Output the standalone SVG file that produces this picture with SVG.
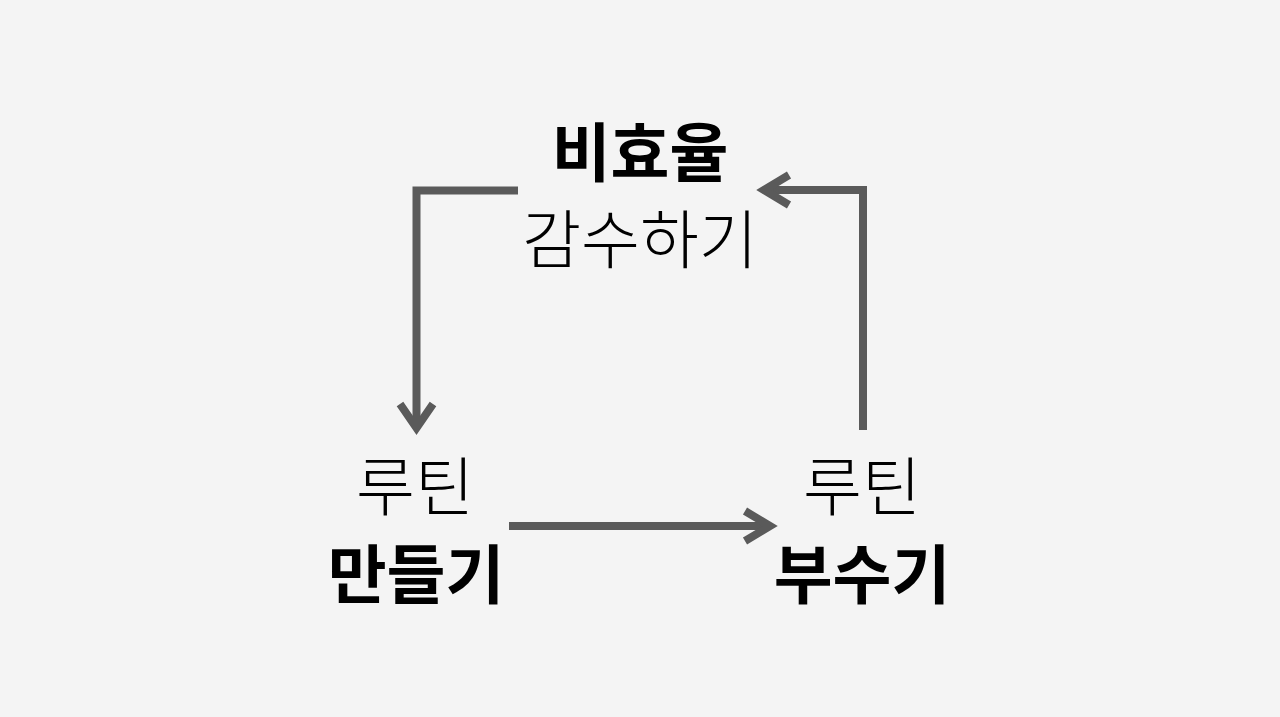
<svg xmlns="http://www.w3.org/2000/svg" width="1280" height="717" viewBox="0 0 1280 717">
<style>
.t{font-family:"Noto Sans CJK KR","Noto Sans CJK SC",sans-serif;font-size:64px;fill:#000;text-anchor:middle}
.b{font-weight:700}
.l{font-weight:300}
.c{fill:none;stroke:#5a5a5a;stroke-width:8}
.h{fill:none;stroke:#5a5a5a;stroke-width:8;stroke-linejoin:miter}
</style>
<rect width="1280" height="717" fill="#f4f4f4"/>
<g id="connectors">
<path class="c" d="M518 190.5 H416.5 V426"/>
<path class="h" d="M400 404 L416.5 428 L433 404"/>
<path class="c" d="M863 430 V190 H766"/>
<path class="h" d="M789 175 L764 190 L789 205"/>
<path class="c" d="M509 526 H768"/>
<path class="h" d="M745 511 L770 526 L745 541"/>
</g>
<g id="node-top">
<text class="t b" x="640" y="176">비효율</text>
<text class="t l" x="640" y="263">감수하기</text>
</g>
<g id="node-left">
<text class="t l" x="415" y="510">루틴</text>
<text class="t b" x="416" y="598">만들기</text>
</g>
<g id="node-right">
<text class="t l" x="862" y="510">루틴</text>
<text class="t b" x="862" y="598">부수기</text>
</g>
</svg>
